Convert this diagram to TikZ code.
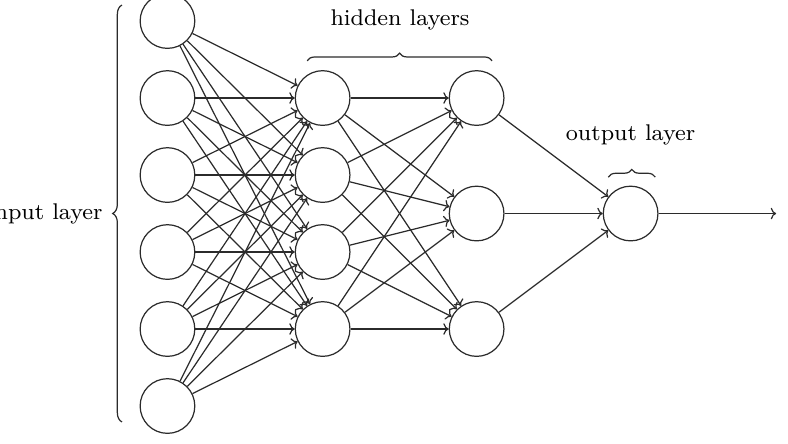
\documentclass[tikz,border=0pt]{standalone}
\usetikzlibrary{arrows.meta, decorations.pathreplacing}
\definecolor{cline}{HTML}{2B2B2B}
\tikzset{
  every picture/.style={line width=0.45pt},
  neuron/.style={circle, draw=cline, minimum size=0.71cm, inner sep=0pt},
  arrow/.style={-{To[length=0.7mm, width=1.5mm]}, draw=cline},
  curly/.style={decorate, decoration={brace, amplitude=#1}, draw=cline},
  curly/.default=1mm,
  layertext/.style={font=\fontsize{8.4}{10}\selectfont, inner sep=0pt},
}

\begin{document}
\begin{tikzpicture}[x=1cm, y=1cm]
  \useasboundingbox (0,0) rectangle (10.234,-5.766);
  % input layer
  \foreach \i in {1,...,6}
    \node[neuron] (in\i) at (2.175, 0.727-\i) {};
  % hidden layers
  \foreach \i in {1,...,4}
    \node[neuron] (ha\i) at (4.19, -0.273-\i) {};
  \node[neuron] (hb1) at (6.19,-1.273) {};
  \node[neuron] (hb2) at (6.19,-2.773) {};
  \node[neuron] (hb3) at (6.19,-4.273) {};
  % output layer
  \node[neuron] (out) at (8.19,-2.773) {};
  \coordinate (end) at (10.08,-2.773);
  % connections
  \foreach \i in {1,...,6}
    \foreach \j in {1,...,4}
      \draw[arrow] (in\i) -- (ha\j);
  \foreach \i in {1,...,4}
    \foreach \j in {1,2,3}
      \draw[arrow] (ha\i) -- (hb\j);
  \foreach \i in {1,2,3}
    \draw[arrow] (hb\i) -- (out);
  \draw[arrow] (out) -- (end);
  % braces and labels
  \draw[curly=1.2mm] (1.584,-5.48) -- (1.584,-0.065);
  \node[layertext, anchor=east] (inlab) at (1.34,-2.78) {input layer};
  \draw[curly] (3.99,-0.79) -- (6.39,-0.79);
  \node[layertext] (hidlab) at (5.195,-0.26) {hidden layers};
  \draw[curly] (7.90,-2.30) -- (8.51,-2.30);
  \node[layertext] (outlab) at (8.19,-1.75) {output layer};
\end{tikzpicture}
\end{document}
